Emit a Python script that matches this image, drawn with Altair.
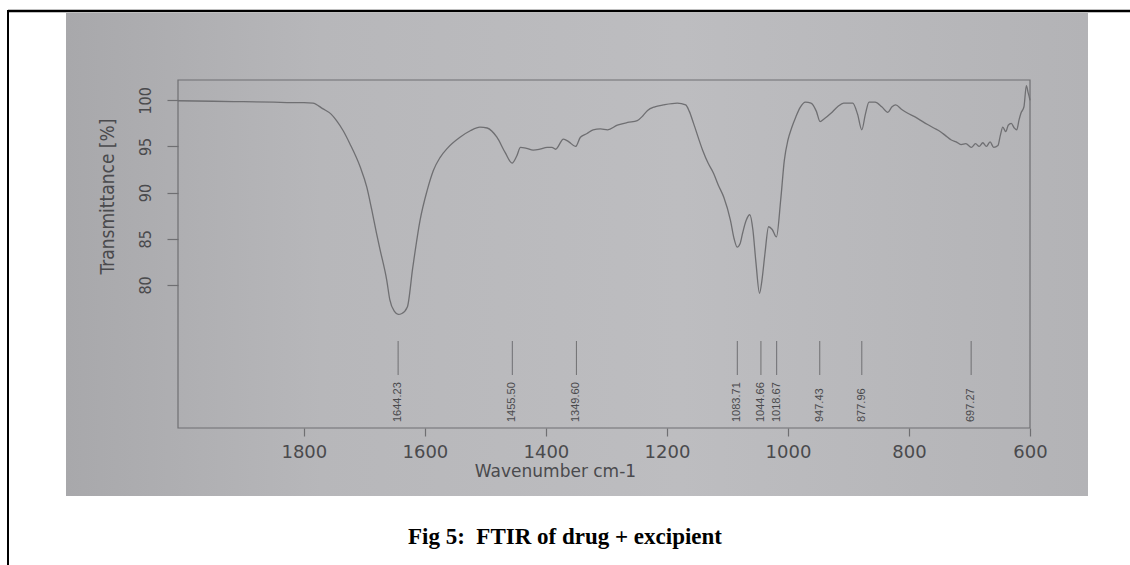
import altair as alt
import pandas as pd

# FTIR spectrum of the drug + excipient mixture (wavenumber in cm-1, transmittance in %)
wavenumber = [
    2008, 1950, 1900, 1850, 1820, 1800, 1785, 1769, 1755, 1746, 1735, 1724, 1707,
    1696, 1688, 1680, 1674, 1663, 1658, 1650, 1644, 1638, 1629, 1620, 1608, 1596,
    1586, 1575, 1563, 1542, 1525, 1509, 1497, 1481, 1467, 1456, 1448, 1442, 1432,
    1421, 1410, 1398, 1390, 1384, 1371, 1362, 1351, 1343, 1332, 1322, 1310, 1298,
    1282, 1265, 1249, 1240, 1232, 1220, 1206, 1183, 1169, 1163, 1156, 1141, 1132,
    1123, 1115, 1106, 1095, 1089, 1084, 1079, 1075, 1069, 1063, 1058, 1053, 1047,
    1043, 1038, 1032, 1026, 1019, 1012, 1006, 1000, 994, 987, 980, 971, 962, 953,
    947, 940, 929, 918, 908, 893, 885, 878, 872, 866, 856, 845, 835, 828, 822, 812,
    802, 790, 780, 770, 759, 748, 740, 730, 722, 714, 706, 697, 690, 684, 678, 672,
    666, 660, 653, 649, 645, 640, 636, 631, 626, 622, 618, 615, 610, 606, 603, 601,
    600,
]
transmittance = [
    99.95, 99.9, 99.85, 99.8, 99.75, 99.75, 99.7, 99.1, 98.5, 97.8, 96.7, 95.3, 92.8,
    90.6, 88.2, 85.6, 83.8, 80.5, 78.4, 77.1, 76.8, 76.9, 77.6, 81.9, 87.0, 90.3,
    92.4, 93.8, 94.8, 96.0, 96.7, 97.1, 97.0, 96.0, 94.3, 93.2, 94.0, 94.9, 94.8,
    94.6, 94.7, 94.9, 94.9, 94.7, 95.8, 95.5, 95.0, 96.0, 96.4, 96.8, 96.9, 96.8,
    97.3, 97.6, 97.8, 98.3, 98.9, 99.3, 99.5, 99.7, 99.5, 98.8, 97.5, 94.6, 93.2,
    92.1, 90.8, 89.5, 87.0, 85.0, 84.1, 84.5, 85.6, 87.0, 87.6, 86.0, 82.5, 79.1,
    80.5, 83.4, 86.3, 86.0, 85.2, 89.2, 93.5, 95.7, 97.0, 98.2, 99.2, 99.8, 99.7, 98.8,
    97.7, 98.0, 98.6, 99.3, 99.7, 99.7, 98.5, 96.8, 98.5, 99.8, 99.8, 99.3, 98.7, 99.3, 99.5, 99.0,
    98.6, 98.2, 97.8, 97.4, 97.0, 96.6, 96.2, 95.7, 95.5, 95.2, 95.3, 94.9, 95.3, 95.0, 95.4, 95.0,
    95.5, 94.9, 95.1, 96.2, 97.1, 96.6, 97.3, 97.5, 97.0, 96.8, 97.9, 98.6, 99.3, 101.6, 100.8, 100.3,
    100.0,
]

# Picked peak positions (cm-1)
peak_positions = [1644.23, 1455.50, 1349.60, 1083.71, 1044.66, 1018.67, 947.43, 877.96, 697.27]

x_ticks = [1800, 1600, 1400, 1200, 1000, 800, 600]
y_ticks = [80, 85, 90, 95, 100]

caption = "Fig 5:\u00a0\u00a0FTIR of drug + excipient"

W, H = 852, 348
PAD_L, PAD_T = 178, 80

spectrum = pd.DataFrame({"wn": wavenumber, "t": transmittance})
peaks = pd.DataFrame({"wn": peak_positions,
                      "label": [f"{p:.2f}" for p in peak_positions]})

x_scale = alt.Scale(domain=[2008, 600], nice=False, zero=False)
y_scale = alt.Scale(domain=[64.5, 102.2], nice=False, zero=False)

ink = "#6f6f72"
text_ink = "#4a4a4d"
narrow = "Liberation Sans Narrow, DejaVu Sans Condensed, sans-serif"

one = pd.DataFrame({"k": [0]})

# grey sheet the spectrum is printed on
sheet = alt.Chart(one).mark_rect(
    color=alt.Gradient(
        gradient="linear",
        stops=[
            alt.GradientStop(color="#a8a8ab", offset=0),
            alt.GradientStop(color="#b7b7ba", offset=0.25),
            alt.GradientStop(color="#bdbdc0", offset=0.6),
            alt.GradientStop(color="#b3b3b6", offset=1),
        ],
        x1=0, x2=1, y1=0, y2=0,
    )
).encode(
    x=alt.value(66 - PAD_L), x2=alt.value(1088 - PAD_L),
    y=alt.value(13 - PAD_T), y2=alt.value(496 - PAD_T),
)

frame = alt.Chart(one).mark_rect(filled=False, stroke=ink, strokeWidth=1.2).encode(
    x=alt.value(0), x2=alt.value(W), y=alt.value(0), y2=alt.value(H)
)

line = alt.Chart(spectrum).mark_line(
    color=ink, strokeWidth=1.3, interpolate="monotone"
).encode(
    x=alt.X("wn:Q", scale=x_scale,
            axis=alt.Axis(values=x_ticks, format="d", title="Wavenumber cm-1",
                          domain=False, grid=False, tickSize=8, tickColor=ink,
                          tickWidth=1.2, labelFont="DejaVu Sans", labelFontSize=18,
                          labelColor=text_ink, labelBaseline="middle",
                          labelPadding=16, labelFlush=False,
                          titleFont="DejaVu Sans", titleFontSize=17,
                          titleFontWeight="normal", titleColor=text_ink,
                          titleX=377, titleY=43, titleBaseline="middle",
                          titleAlign="center", zindex=1)),
    y=alt.Y("t:Q", scale=y_scale,
            axis=alt.Axis(values=y_ticks, format="d", title="Transmittance [%]",
                          domain=False, grid=False, tickSize=11, tickColor=ink,
                          tickWidth=1.2, labelFont=narrow, labelFontSize=16,
                          labelColor=text_ink, labelAngle=270,
                          labelAlign="center", labelBaseline="alphabetic",
                          labelPadding=17, labelFlush=False,
                          titleFont=narrow, titleFontSize=19,
                          titleFontWeight="normal", titleColor=text_ink,
                          titleAngle=270, titleX=-65, titleY=116,
                          titleAlign="center", titleBaseline="alphabetic",
                          zindex=1)),
)

peak_ticks = alt.Chart(peaks).mark_rule(color=ink, strokeWidth=1).encode(
    x=alt.X("wn:Q", scale=x_scale),
    y=alt.value(341 - PAD_T), y2=alt.value(375 - PAD_T),
)

peak_text = alt.Chart(peaks).mark_text(
    angle=270, align="left", baseline="middle", font="Liberation Sans",
    fontSize=11, color=text_ink,
).encode(
    x=alt.X("wn:Q", scale=x_scale),
    y=alt.value(422 - PAD_T),
    text="label:N",
)

# page border and figure caption
border_top = alt.Chart(one).mark_rule(color="black", strokeWidth=2.5).encode(
    x=alt.value(8 - PAD_L), x2=alt.value(1130 - PAD_L), y=alt.value(11 - PAD_T)
)
border_left = alt.Chart(one).mark_rule(color="black", strokeWidth=2).encode(
    x=alt.value(8 - PAD_L), y=alt.value(10 - PAD_T), y2=alt.value(565 - PAD_T)
)
caption_text = alt.Chart(one).mark_text(
    text=caption, font="Liberation Serif", fontWeight="bold", fontSize=23,
    color="black", align="center", baseline="middle",
).encode(x=alt.value(565 - PAD_L), y=alt.value(537 - PAD_T))

chart = alt.layer(
    sheet, frame, line, peak_ticks, peak_text, border_top, border_left, caption_text
).properties(
    width=W, height=H,
    autosize=alt.AutoSizeParams(type="none"),
    padding={"left": PAD_L, "top": PAD_T, "right": 1130 - PAD_L - W,
             "bottom": 565 - PAD_T - H},
    background="white",
).configure_view(stroke=None)

chart.save("out.html", embed_options={"renderer": "svg", "actions": False})
